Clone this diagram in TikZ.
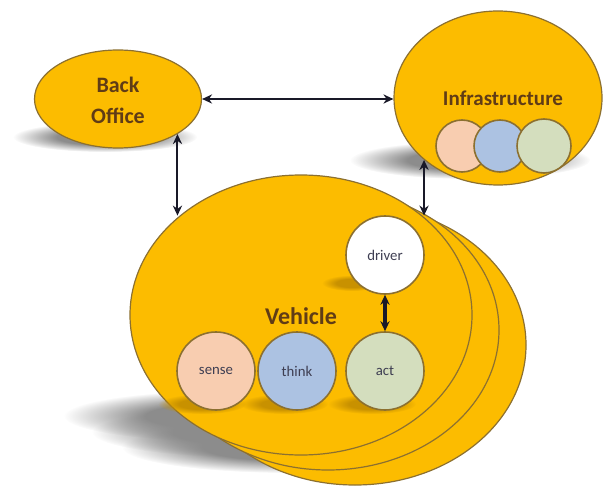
\documentclass[tikz,border=0pt]{standalone}
\usepackage{fontspec}
\setmainfont{Carlito}
\usepackage{xcolor}
\usetikzlibrary{shapes.geometric,arrows.meta,fadings}

\definecolor{gold}{RGB}{252,188,0}
\definecolor{goldedge}{RGB}{140,112,48}
\definecolor{labelbrown}{RGB}{96,60,22}
\definecolor{partink}{RGB}{62,62,82}
\definecolor{peach}{RGB}{248,205,176}
\definecolor{skyblue}{RGB}{172,194,226}
\definecolor{sage}{RGB}{212,222,190}
\definecolor{arrowink}{RGB}{25,25,40}
\definecolor{darkgold}{RGB}{200,145,0}

\pgfdeclareradialshading{softedgeshade}{\pgfpointorigin}{%
  color(0bp)=(pgftransparent!0); color(13bp)=(pgftransparent!0);
  color(25bp)=(pgftransparent!100); color(50bp)=(pgftransparent!100)}
\pgfdeclarefading{softedge}{\pgfuseshading{softedgeshade}}

\tikzset{
  blob/.style={ellipse, draw=goldedge, line width=0.6pt, fill=gold, inner sep=0pt},
  bigtext/.style={text=labelbrown, font=\bfseries\fontsize{11}{15.5}\selectfont, align=center},
  part/.style={circle, draw=goldedge, line width=0.8pt, minimum size=39pt, inner sep=0pt,
    text=partink, font=\fontsize{7.4}{8}\selectfont},
  link/.style={{Stealth[length=5pt,width=4.6pt]}-{Stealth[length=5pt,width=4.6pt]},
    line width=1pt, draw=arrowink},
  castshadow/.style={fill=black!45, path fading=softedge},
  goldshadow/.style={fill=darkgold, path fading=softedge},
}

\begin{document}
\begin{tikzpicture}[x=0.5pt, y=-0.5pt]
\useasboundingbox (0,0) rectangle (603,486);

% shadows on the floor
\fill[castshadow] (105,137) ellipse [x radius=92, y radius=15];
\fill[castshadow] (470,160) ellipse [x radius=120, y radius=19];
\fill[castshadow] (234,416) ellipse [x radius=170, y radius=26];
\fill[castshadow] (262,432) ellipse [x radius=170, y radius=26];
\fill[castshadow] (292,447) ellipse [x radius=170, y radius=26];

\node[blob, minimum width=83.5pt, minimum height=49pt] (back) at (118,99) {};
\node[bigtext] (backlabel) at (118,100) {Back\\Office};

\node[blob, minimum width=104pt, minimum height=87pt] (infra) at (498,98) {};
\node[bigtext, font=\bfseries\fontsize{10.5}{12}\selectfont] (infralabel) at (503,98) {Infrastructure};
\node[part, minimum size=26pt, fill=peach] (isense) at (462,146) {};
\node[part, minimum size=26pt, fill=skyblue] (ithink) at (500,146) {};
\node[part, minimum size=27pt, fill=sage] (iact) at (544,146) {};

% vehicle stack, back to front
\node[blob, minimum width=171pt, minimum height=140pt] (vehC) at (355,345) {};
\node[blob, minimum width=171pt, minimum height=140pt] (vehB) at (328,330) {};
\node[blob, minimum width=171pt, minimum height=140pt] (veh) at (301,315) {};
\node[bigtext, font=\bfseries\fontsize{12}{14}\selectfont] (vehlabel) at (301,316) {Vehicle};

\fill[goldshadow] (352,283) ellipse [x radius=30, y radius=8];
\fill[goldshadow] (202,404) ellipse [x radius=44, y radius=10];
\fill[goldshadow] (284,404) ellipse [x radius=44, y radius=10];
\fill[goldshadow] (372,404) ellipse [x radius=44, y radius=10];

\node[part, fill=white] (driver) at (385,255) {driver};
\node[part, fill=peach] (sense) at (216,371) {sense};
\node[part, fill=skyblue] (think) at (297,371) {think};
\node[part, fill=sage] (act) at (385,371) {act};

\draw[link] (back.east) -- (back.east -| infra.west);
\draw[link] (back.south east) -- (back.south east |- veh.north west);
\draw[link] (infra.south west) -- (infra.south west |- veh.north east);
\draw[link, line width=1.6pt] (driver) -- (act);
\end{tikzpicture}
\end{document}
